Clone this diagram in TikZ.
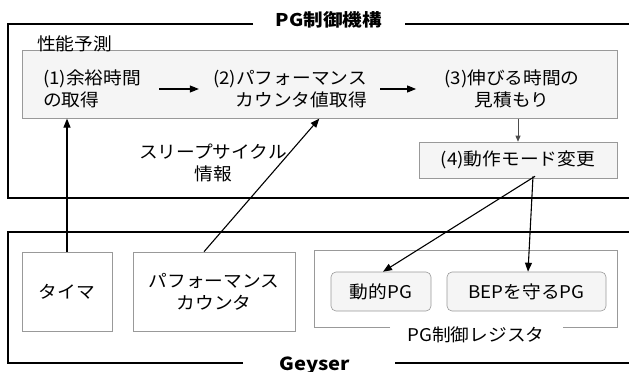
\documentclass[tikz,border=0pt]{standalone}
\usepackage{fontspec}
\setmainfont[FakeStretch=1.07]{Noto Sans CJK JP}
\newfontfamily\titlefont[FakeStretch=1.12]{Noto Sans CJK JP}
\usetikzlibrary{arrows.meta}
\tikzset{
  frame/.style={line width=1.6pt, draw=black},
  graybox/.style={draw=gray!80, line width=0.6pt, fill=gray!8},
  whitebox/.style={draw=gray!80, line width=0.6pt, fill=white},
  roundbox/.style={draw=gray!80, line width=0.6pt, fill=gray!8, rounded corners=5pt},
  txt/.style={font=\fontsize{17.5}{22}\selectfont, inner sep=0pt, align=center},
  ttl/.style={font=\titlefont\fontsize{17.5}{22}\selectfont\bfseries, inner sep=0pt},
  arr/.style={-{Triangle[length=9pt,width=7pt]}, line width=1.1pt},
  thinarr/.style={-{Triangle[length=6pt,width=5pt]}, line width=0.7pt, draw=gray!60!black}
}
\begin{document}
\begin{tikzpicture}[x=1pt,y=-1pt]
\useasboundingbox (0,0) rectangle (629,372);
\clip (0,0) rectangle (629,372);
% outer frame: PG control mechanism
\draw[frame] (253,24) -- (8,24) -- (8,198) -- (640,198);
\draw[frame] (405,24) -- (640,24);
\node[ttl] (tit) at (329,20) {PG制御機構};
% performance prediction box
\node[graybox, minimum width=595, minimum height=68, anchor=north west, inner sep=0] (perf) at (22,50) {};
\node[txt, anchor=south west] (perflab) at (37,52) {性能予測};
\node[txt, align=left, anchor=west] (n1) at (43,89) {(1)余裕時間\\の取得};
\node[txt, align=right, anchor=east] (n2) at (367,89) {(2)パフォーマンス\\カウンタ値取得};
\node[txt] (n3) at (512,89) {(3)伸びる時間の\\見積もり};
\node[graybox, txt, minimum width=198, minimum height=36] (n4) at (518,160) {(4)動作モード変更};
\draw[arr] ([xshift=18]n1.east) -- ([xshift=-14]n2.west);
\draw[arr] ([xshift=13]n2.east) -- ([xshift=-28]n3.west);
\draw[thinarr] (n4.north |- perf.south) -- (n4.north);
% Geyser frame
\draw[frame] (243,363) -- (8,363) -- (8,232) -- (640,232);
\draw[frame] (395,363) -- (640,363);
\node[ttl, font=\titlefont\fontsize{18}{22}\selectfont\bfseries, anchor=north] (gey) at (315,357) {Geyser};
% bottom boxes
\node[whitebox, txt, minimum width=90, minimum height=79] (timer) at (67,291.5) {タイマ};
\node[whitebox, txt, minimum width=162, minimum height=79] (pc) at (214,291.5) {パフォーマンス\\カウンタ};
\draw[draw=gray!80, line width=0.6pt] (390,327) -- (314,327) -- (314,250) -- (617,250) -- (617,327) -- (563,327);
\node[txt] (reglab) at (476,335) {PG制御レジスタ};
\node[roundbox, txt, minimum width=100, minimum height=39] (dpg) at (381,291.5) {動的PG};
\node[roundbox, txt, minimum width=159, minimum height=39] (bep) at (526.5,291.5) {BEPを守るPG};
% connectors
\draw[arr] (timer.north) -- (timer.north |- perf.south);
\draw[arr] ([xshift=-10]pc.north) -- ([xshift=-0.5]perf.south);
\node[txt] (sleep) at (213,163) {スリープサイクル\\情報};
\draw[arr] ([xshift=17,yshift=2]n4.south) -- ([xshift=2]dpg.north);
\draw[arr] ([xshift=15,yshift=2]n4.south) -- ([xshift=1.5]bep.north);
\end{tikzpicture}
\end{document}
